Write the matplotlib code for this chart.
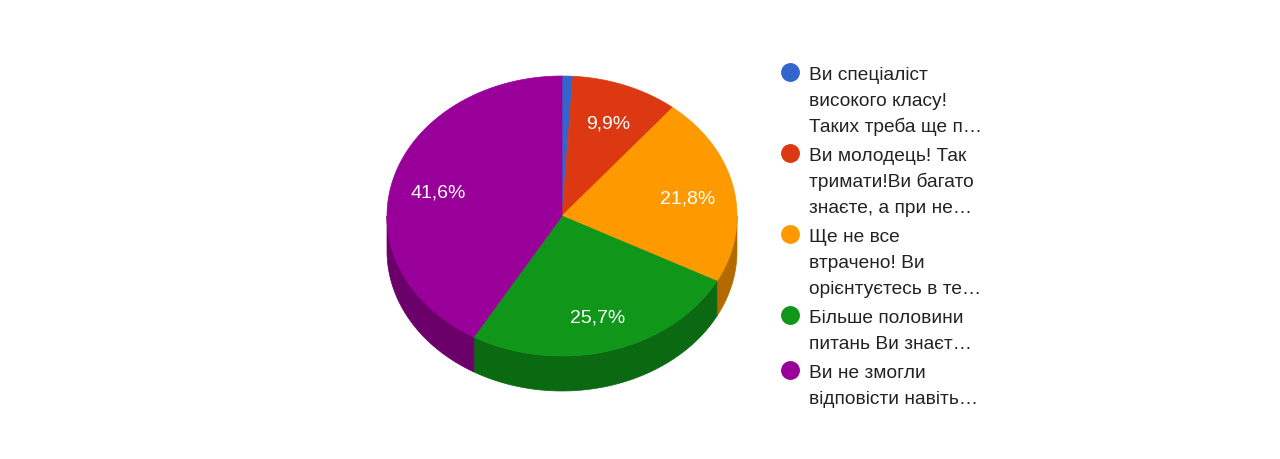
import numpy as np
import matplotlib
matplotlib.use("Agg")
import matplotlib.pyplot as plt
from matplotlib.patches import Polygon

plt.rcParams['font.family'] = ['Liberation Sans', 'DejaVu Sans']

# data
answers = [
    ["Ви спеціаліст", "високого класу!", "Таких треба ще п…"],
    ["Ви молодець! Так", "тримати!Ви багато", "знаєте, а при не…"],
    ["Ще не все", "втрачено! Ви", "орієнтуєтесь в те…"],
    ["Більше половини", "питань Ви знаєт…"],
    ["Ви не змогли", "відповісти навіть…"],
]
shares = [1.0, 9.9, 21.8, 25.7, 41.6]
colors = ["#3366cc", "#dc3912", "#ff9900", "#109618", "#990099"]
side_colors = ["#24478f", "#9a280d", "#b36b00", "#0b6911", "#6b006b"]

# pie geometry (pixels, y down)
cx, cy = 562, 217
rx, ry = 175, 140
depth = 35


def rim(t1, t2, dy=0.0, n=120):
    t = np.radians(np.linspace(t1, t2, n))
    return np.column_stack([cx + rx * np.sin(t), cy - ry * np.cos(t) + dy])


fig = plt.figure(figsize=(12.8, 4.6), dpi=100)
ax = fig.add_axes([0, 0, 1, 1])
ax.set_xlim(0, 1280)
ax.set_ylim(460, 0)
ax.axis("off")

total = sum(shares)
bounds = np.concatenate([[0], np.cumsum(shares)]) / total * 360

# side walls (front half only)
for i in range(len(shares)):
    a, b = max(bounds[i], 90), min(bounds[i + 1], 270)
    if b <= a:
        continue
    top = rim(a, b)
    bottom = rim(a, b, depth)[::-1]
    ax.add_patch(Polygon(np.vstack([top, bottom]), closed=True,
                         facecolor=side_colors[i], edgecolor=side_colors[i],
                         lw=0.5, zorder=1))

# top face
for i in range(len(shares)):
    pts = np.vstack([[cx, cy], rim(bounds[i], bounds[i + 1])])
    ax.add_patch(Polygon(pts, closed=True, facecolor=colors[i],
                         edgecolor=colors[i], lw=0.5, zorder=2))
    if shares[i] >= 5:
        mid = np.radians((bounds[i] + bounds[i + 1]) / 2)
        lx = cx + 0.73 * rx * np.sin(mid)
        ly = cy - 0.73 * ry * np.cos(mid)
        ax.text(lx, ly + 7, f"{shares[i]:.1f}%".replace(".", ","),
                color="white", fontsize=14, ha="center", va="baseline",
                zorder=3)

# legend
base = 80
for i, lines in enumerate(answers):
    ax.scatter([790], [base - 7], s=185, color=colors[i], zorder=3,
               linewidths=0)
    for k, line in enumerate(lines):
        ax.text(809, base + k * 26, line, fontsize=13.8, color="#222222",
                ha="left", va="baseline")
    base += len(lines) * 26 + 3

fig.savefig("out.png", dpi=100)
